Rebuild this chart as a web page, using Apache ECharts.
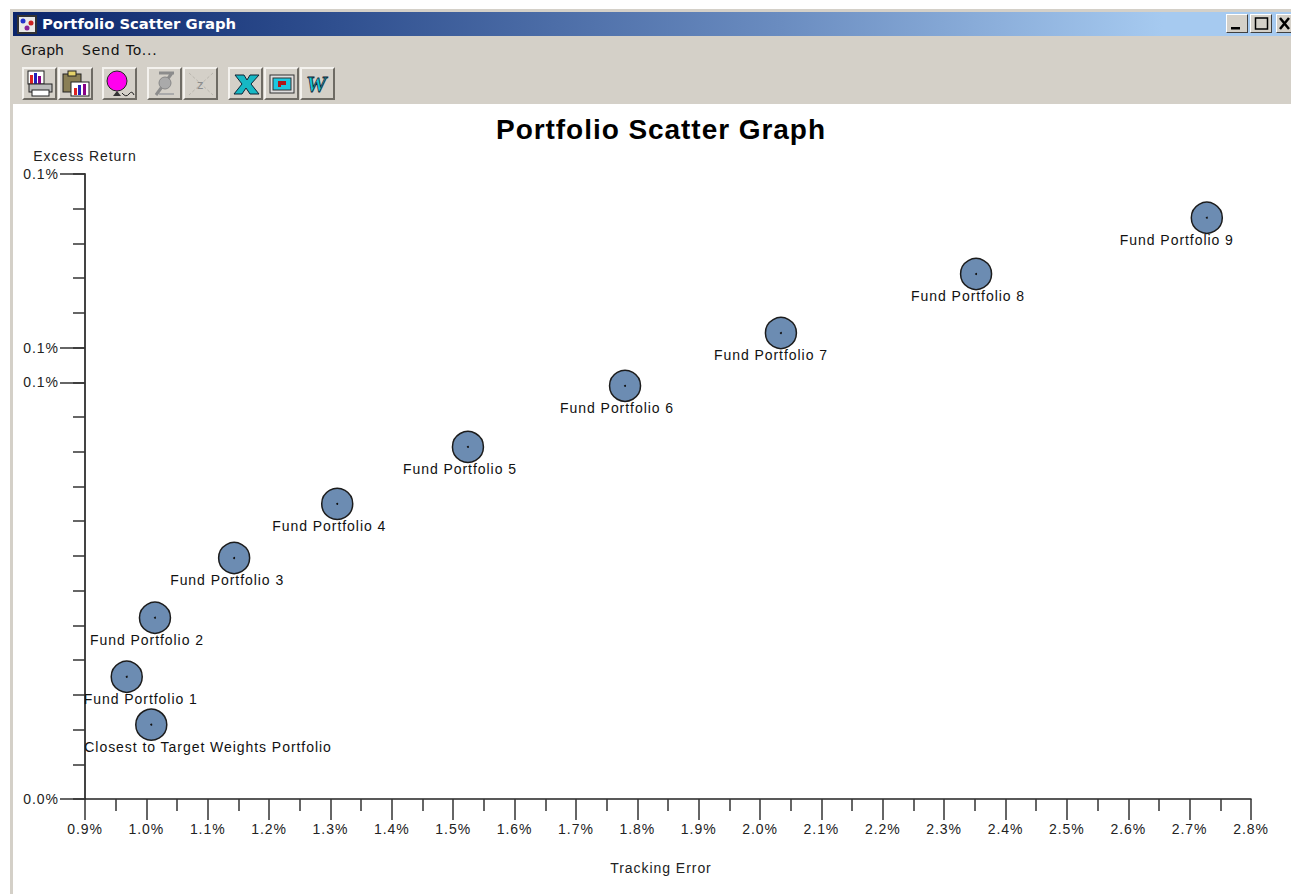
<!DOCTYPE html>
<html>
<head>
<meta charset="utf-8" />
<title>Portfolio Scatter Graph</title>
<script src="https://cdn.jsdelivr.net/npm/echarts@6/dist/echarts.min.js"></script>
<style>
	html, body { margin: 0; padding: 0; background: #fff; overflow: hidden; }
	body { width: 1291px; height: 894px; position: relative; font-family: "Liberation Sans", Arial, sans-serif; }
	#frame { position: absolute; left: 10px; top: 9px; width: 1281px; height: 885px; background: #d4d0c8; }
	#titlebar {
		position: absolute; left: 13px; top: 12px; width: 1278px; height: 24px;
		background: linear-gradient(to right, #0a246a 0%, #2f4f8f 25%, #6a8cc0 60%, #a6caf0 90%, #a6caf0 100%);
		color: #fff; font: bold 14.8px "DejaVu Sans", sans-serif; line-height: 24px;
	}
	#titlebar span { position: absolute; left: 29px; top: 0; }
	#appicon { position: absolute; left: 4px; top: 3px; }
	.winbtn {
		position: absolute; top: 14px; width: 22px; height: 19px; box-sizing: border-box; background: #d4d0c8;
		border: 1px solid; border-color: #fff #404040 #404040 #fff;
	}
	.menuitem { position: absolute; top: 42px; font: 14px "DejaVu Sans", sans-serif; color: #111; white-space: pre; }
	#plotbg { position: absolute; left: 13px; top: 104px; width: 1278px; height: 790px; background: #fff; }
	.tb {
		position: absolute; top: 67px; width: 35px; height: 33px; box-sizing: border-box; background: #d4d0c8;
		border: 2px solid; border-color: #f4f2ee #6e6b64 #6e6b64 #f4f2ee;
	}
	.tb svg { display: block; position: absolute; left: 1px; top: 1px; }
	#main { position: absolute; left: 0; top: 0; width: 1291px; height: 894px; }
	/* the reference text runs wide */
	#main text { letter-spacing: .95px; }
</style>
</head>
<body>
<div id="frame"></div>
<div id="titlebar">
	<svg id="appicon" width="20" height="19"><rect width="20" height="19" fill="#333"/><rect x="2" y="2" width="16" height="15" fill="#e8e8e8"/><circle cx="6" cy="6" r="2.5" fill="#2233cc"/><circle cx="14" cy="8" r="2.5" fill="#cc2222"/><circle cx="10" cy="13" r="2.5" fill="#882299"/></svg>
	<span>Portfolio Scatter Graph</span>
</div>
<div class="winbtn" style="left:1226px"><svg width="20" height="17"><rect x="4" y="12" width="9" height="2.5" fill="#000"/></svg></div>
<div class="winbtn" style="left:1250px"><svg width="20" height="17"><rect x="4.5" y="3" width="12" height="11" fill="none" stroke="#000" stroke-width="1.5"/></svg></div>
<div class="winbtn" style="left:1276px"><svg width="20" height="17"><path d="M3 3L12 14M12 3L3 14" stroke="#000" stroke-width="2.5"/></svg></div>
<div class="menuitem" style="left:21px">Graph</div>
<div class="menuitem" style="left:82px;letter-spacing:.8px">Send To...</div>

<div class="tb" style="left:22px"><svg width="30" height="28"><rect x="3" y="1" width="16" height="13" fill="#fff" stroke="#222"/><rect x="5" y="5" width="3" height="9" fill="#d22"/><rect x="9" y="3" width="3" height="11" fill="#22b"/><rect x="13" y="6" width="3" height="8" fill="#808"/><rect x="4" y="14" width="23" height="8" fill="#bbb" stroke="#222"/><rect x="7" y="20" width="17" height="6" fill="#fff" stroke="#222"/></svg></div>
<div class="tb" style="left:58px"><svg width="30" height="28"><rect x="2" y="4" width="18" height="18" fill="#8a7f55" stroke="#222"/><rect x="7" y="1" width="8" height="5" fill="#e4d26a" stroke="#222"/><rect x="10" y="12" width="18" height="14" fill="#fff" stroke="#222"/><rect x="13" y="18" width="3" height="7" fill="#d22"/><rect x="17" y="15" width="3" height="10" fill="#22b"/><rect x="22" y="14" width="3" height="11" fill="#808"/></svg></div>
<div class="tb" style="left:102px"><svg width="30" height="28"><circle cx="12" cy="11" r="10" fill="#ff00ee" stroke="#222"/><path d="M12 21L8 26H16Z" fill="#333"/><path d="M17 23Q21 28 24 24T29 25" fill="none" stroke="#222"/></svg></div>
<div class="tb" style="left:147px"><svg width="30" height="28"><path d="M9 3H24M22 3L6 25" stroke="#8c8c8c" stroke-width="3" fill="none"/><circle cx="15" cy="13" r="6" fill="#aaa" stroke="#888"/><path d="M9 24H24" stroke="#aaa" stroke-width="2"/></svg></div>
<div class="tb" style="left:183px"><svg width="30" height="28"><path d="M3 3L27 25M27 3L3 25" stroke="#b9b6ae" stroke-dasharray="3 2"/><text x="11" y="19" font-size="12" font-family="DejaVu Sans" fill="#8c8c8c">z</text></svg></div>
<div class="tb" style="left:228px"><svg width="30" height="28"><path d="M4 5H13L16 10L19 5H28L20 14L28 24H19L15 18L11 24H3L11 14Z" fill="#16b8c4" stroke="#123"/></svg></div>
<div class="tb" style="left:264px"><svg width="30" height="28"><rect x="3" y="5" width="24" height="18" fill="#ddd" stroke="#333"/><rect x="6" y="8" width="18" height="12" fill="#1cc8e0" stroke="#333"/><path d="M11 11H19V15H14V17H11Z" fill="#b01818"/></svg></div>
<div class="tb" style="left:300px"><svg width="30" height="28"><text x="3" y="22" font-size="23" font-weight="bold" font-style="italic" font-family="Liberation Serif" fill="#12c8d8" stroke="#123" stroke-width="0.8">W</text></svg></div>

<div id="plotbg"></div>
<div id="main"></div>
<script type="text/javascript">
	var names = ['Closest to Target Weights Portfolio', 'Fund Portfolio 1', 'Fund Portfolio 2', 'Fund Portfolio 3', 'Fund Portfolio 4',
		'Fund Portfolio 5', 'Fund Portfolio 6', 'Fund Portfolio 7', 'Fund Portfolio 8', 'Fund Portfolio 9'];
	var trackingError = [1.008, 0.968, 1.014, 1.143, 1.311, 1.524, 1.780, 2.034, 2.352, 2.728];
	var excessReturn = [0.0107, 0.0176, 0.0261, 0.0347, 0.0425, 0.0507, 0.0595, 0.0671, 0.0756, 0.0837];
	var labelledReturnTicks = [0, 0.06, 0.065, 0.09];

	// where each label starts, left of its point
	var labelShift = [-67, -43, -65, -64, -65, -65, -65, -67, -65, -87];

	var font = '"Liberation Sans", Arial, sans-serif';
	var textColor = '#222';

	var points = names.map(function(name, i) {
		return {
			name: name,
			value: [trackingError[i], excessReturn[i]],
			label: { offset: [labelShift[i], -6] }
		};
	});
	var dots = names.map(function(name, i) {
		return [trackingError[i], excessReturn[i]];
	});

	var myChart = echarts.init(document.getElementById('main'), null, { renderer: 'svg' });
	var option = {
		backgroundColor: 'transparent',
		animation: false,
		title: {
			text: 'Portfolio Scatter Graph',
			left: 656,
			top: 110,
			textAlign: 'center',
			textStyle: { fontFamily: font, fontSize: 28, fontWeight: 'bold', color: '#000' }
		},
		grid: { left: 85, top: 174, width: 1166, height: 625, containLabel: false },
		xAxis: {
			type: 'value',
			min: 0.9,
			max: 2.8,
			interval: 0.1,
			name: 'Tracking Error',
			nameLocation: 'center',
			nameGap: 62,
			nameTextStyle: { fontFamily: font, fontSize: 14, color: textColor, padding: [0, 14, 0, 0] },
			axisLine: { show: true, lineStyle: { color: '#222', width: 1.5 } },
			axisTick: { show: true, length: 21, lineStyle: { color: '#333', width: 1.5 } },
			minorTick: { show: true, splitNumber: 2, length: 12, lineStyle: { color: '#333', width: 1.5 } },
			axisLabel: {
				margin: 23, fontFamily: font, fontSize: 14, color: textColor,
				showMinLabel: true, showMaxLabel: true, hideOverlap: false,
				formatter: function(v) { return v.toFixed(1) + '%'; }
			},
			splitLine: { show: false }
		},
		yAxis: [{
			type: 'value',
			min: 0,
			max: 0.09,
			interval: 0.005,
			name: 'Excess Return',
			nameLocation: 'end',
			nameGap: 11,
			nameTextStyle: { fontFamily: font, fontSize: 14, color: textColor },
			axisLine: { show: true, onZero: false, lineStyle: { color: '#444', width: 2 } },
			axisTick: { show: true, length: 12, lineStyle: { color: '#333', width: 1.5 } },
			axisLabel: { show: false },
			splitLine: { show: false }
		}, {
			type: 'value',
			min: 0,
			max: 0.09,
			position: 'left',
			axisLine: { show: false },
			axisTick: { show: true, length: 25, customValues: labelledReturnTicks, lineStyle: { color: '#333', width: 1.5 } },
			axisLabel: {
				show: true, margin: 26, customValues: labelledReturnTicks,
				fontFamily: font, fontSize: 14, color: textColor,
				formatter: function(v) { return v.toFixed(1) + '%'; }
			},
			splitLine: { show: false }
		}],
		series: [{
			type: 'scatter',
			symbol: 'circle',
			symbolSize: 31,
			itemStyle: { color: '#6c8cb2', borderColor: '#1c1c1c', borderWidth: 1.5, opacity: 1 },
			label: {
				show: true,
				position: 'bottom',
				align: 'left',
				fontFamily: font,
				fontSize: 14,
				color: '#111',
				formatter: '{b}'
			},
			data: points
		}, {
			type: 'scatter',
			symbol: 'circle',
			symbolSize: 2,
			silent: true,
			z: 3,
			itemStyle: { color: '#111', opacity: 1 },
			data: dots
		}]
	};
	myChart.setOption(option, true);
</script>
</body>
</html>
